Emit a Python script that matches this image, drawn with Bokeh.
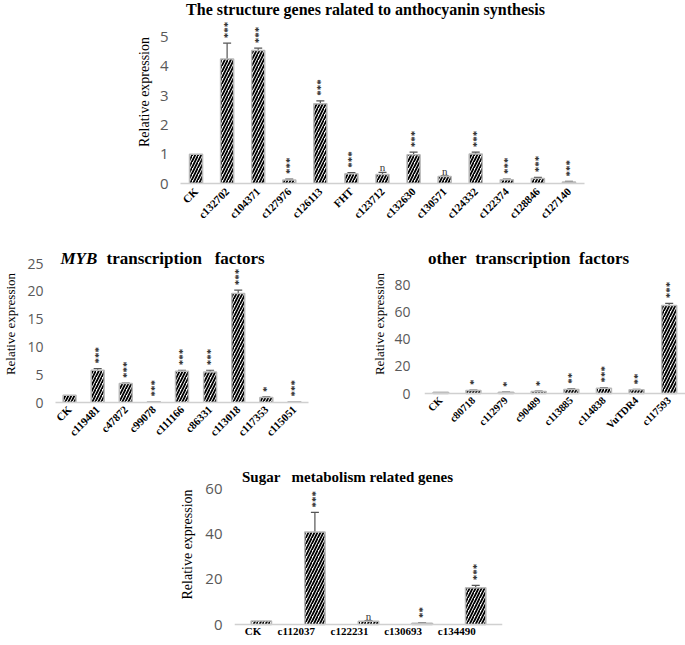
from math import pi
from bokeh.plotting import figure
from bokeh.models import (ColumnDataSource, FactorRange, Range1d, FixedTicker,
                          Whisker, TeeHead, Label, Spacer, Span)
from bokeh.layouts import column, row
from bokeh.embed import file_html
from bokeh.resources import INLINE

SERIF = "Liberation Serif"
SANS = "Open Sans"
NB = "\u00a0"

# ---------------- data ----------------
cats1 = ["CK", "c132702", "c104371", "c127976", "c126113", "FHT", "c123712",
         "c132630", "c130571", "c124332", "c122374", "c128846", "c127140"]
vals1 = [1.0, 4.25, 4.54, 0.12, 2.72, 0.33, 0.31, 0.98, 0.24, 1.01, 0.13, 0.17, 0.05]
errs1 = [0.0, 0.54, 0.08, 0.03, 0.10, 0.04, 0.07, 0.09, 0.02, 0.06, 0.02, 0.04, 0.02]
sig1 = ["", "***", "***", "***", "***", "***", "n", "***", "n", "***", "***", "***", "***"]
ticks1 = [0, 1, 2, 3, 4, 5]

cats2 = ["CK", "c119481", "c47872", "c99078", "c111166", "c86331", "c113018",
         "c117353", "c115051"]
vals2 = [1.3, 5.8, 3.4, 0.15, 5.6, 5.5, 19.6, 0.9, 0.15]
errs2 = [0.0, 0.3, 0.1, 0.02, 0.2, 0.3, 0.6, 0.1, 0.02]
sig2 = ["", "***", "***", "***", "***", "***", "***", "*", "***"]
ticks2 = [0, 5, 10, 15, 20, 25]

cats3 = ["CK", "c80718", "c112979", "c90489", "c113885", "c114838", "VuTDR4", "c117593"]
vals3 = [1.0, 2.2, 1.0, 1.5, 3.0, 3.9, 2.7, 64.6]
errs3 = [0.0, 0.3, 0.1, 0.2, 0.4, 0.5, 0.3, 1.6]
sig3 = ["", "*", "*", "*", "**", "***", "**", "***"]
ticks3 = [0, 20, 40, 60, 80]

cats4 = ["CK", "c112037", "c122231", "c130693", "c134490"]
vals4 = [1.6, 41.0, 1.5, 0.6, 16.3]
errs4 = [0.0, 8.7, 0.2, 0.1, 1.1]
sig4 = ["", "***", "n", "**", "***"]
ticks4 = [0, 20, 40, 60]


def panel(cats, vals, errs, sig, ticks, width, height, borders, y_rng, bw,
          tick_size, ylab_size, cat_size, cat_orient, ytick_standoff,
          ylab_standoff, xlab_standoff, zero_span=False):
    l, r, t, b = borders
    p = figure(x_range=FactorRange(*cats), y_range=Range1d(*y_rng),
               width=width, height=height, output_backend="svg",
               toolbar_location=None, min_border_left=l, min_border_right=r,
               min_border_top=t, min_border_bottom=b)
    p.outline_line_color = None
    p.xgrid.grid_line_color = None
    p.ygrid.grid_line_color = None
    p.background_fill_color = "white"

    tops = [v + e for v, e in zip(vals, errs)]
    src = ColumnDataSource(dict(cat=cats, val=vals))
    p.vbar(x="cat", top="val", bottom=0, width=bw, source=src, fill_color="white",
           line_color="#b8b8b8", line_width=1.5, hatch_pattern="/",
           hatch_color="black", hatch_scale=6, hatch_weight=1.8)

    idx = [i for i, e in enumerate(errs) if e > 0]
    esrc = ColumnDataSource(dict(cat=[cats[i] for i in idx],
                                 upper=[vals[i] + errs[i] for i in idx],
                                 lower=[vals[i] - errs[i] for i in idx]))
    w = Whisker(base="cat", upper="upper", lower="lower", source=esrc,
                line_color="#555555", line_width=1.2,
                upper_head=TeeHead(size=8, line_color="#555555", line_width=1.2),
                lower_head=TeeHead(size=8, line_color="#555555", line_width=1.2))
    p.add_layout(w)

    si = [i for i, s in enumerate(sig) if "*" in s]
    ssrc = ColumnDataSource(dict(cat=[cats[i] for i in si], y=[tops[i] for i in si],
                                 t=[sig[i] for i in si]))
    p.text(x="cat", y="y", text="t", source=ssrc, angle=pi / 2,
           text_align="left", text_baseline="middle", y_offset=-5,
           text_font="Liberation Serif", text_font_style="bold",
           text_font_size="11px", text_color="#222222")
    ni = [i for i, s in enumerate(sig) if s == "n"]
    nsrc = ColumnDataSource(dict(cat=[cats[i] for i in ni], y=[tops[i] for i in ni],
                                 t=[sig[i] for i in ni]))
    p.text(x="cat", y="y", text="t", source=nsrc, text_align="center",
           text_baseline="bottom", y_offset=1, text_font=SANS,
           text_font_size="11px", text_color="#333333")

    xa = p.xaxis[0]
    if zero_span:
        xa.axis_line_color = None
        p.add_layout(Span(location=0, dimension="width", line_color="#d0d0d0",
                          line_width=1.5))
    else:
        xa.axis_line_color = "#d0d0d0"
        xa.axis_line_width = 1.5
    xa.major_tick_line_color = None
    xa.minor_tick_line_color = None
    xa.major_tick_out = 0
    xa.major_tick_in = 0
    xa.major_label_text_font = SERIF
    xa.major_label_text_font_style = "bold"
    xa.major_label_text_font_size = cat_size
    xa.major_label_text_color = "black"
    xa.major_label_orientation = cat_orient
    xa.major_label_standoff = xlab_standoff

    ya = p.yaxis[0]
    ya.axis_line_color = None
    ya.major_tick_line_color = None
    ya.minor_tick_line_color = None
    ya.major_tick_out = 0
    ya.major_tick_in = 0
    ya.ticker = FixedTicker(ticks=ticks)
    ya.major_label_text_font = SANS
    ya.major_label_text_font_size = tick_size
    ya.major_label_text_color = "#595959"
    ya.major_label_standoff = ytick_standoff
    ya.axis_label = "Relative expression"
    ya.axis_label_text_font = SERIF
    ya.axis_label_text_font_style = "normal"
    ya.axis_label_text_font_size = ylab_size
    ya.axis_label_text_color = "black"
    ya.axis_label_standoff = ylab_standoff
    return p


def title(p, text, x, y, size, style="bold", align="center"):
    p.add_layout(Label(x=x, y=y, x_units="screen", y_units="screen", text=text,
                       text_font=SERIF, text_font_style=style,
                       text_font_size=size, text_align=align,
                       text_baseline="middle", text_color="black"))


# Row 1: frame x 180..584, y 0..183
p1 = panel(cats1, vals1, errs1, sig1, ticks1, 685, 245, (180, 101, 0, 62),
           (0, 183 / 29.3), 0.42, "15px", "14px", "11px", pi / 4, 12, 5, 6)
title(p1, "The structure genes ralated to anthocyanin synthesis", 185, 174, "16px")

# Row 2: common frame y 245..402
p2 = panel(cats2, vals2, errs2, sig2, ticks2, 340, 215, (52, 32, 0, 58),
           (0, 157 / 5.56), 0.46, "14px", "13px", "11px", pi / 4, 12, 6, 5)
title(p2, "MYB", 5, 144, "17px", style="bold italic", align="left")
title(p2, "transcription" + NB * 3 + "factors", 51, 144, "17px", align="left")

p3 = panel(cats3, vals3, errs3, sig3, ticks3, 345, 215, (84, 0, 0, 58),
           (-9 / 1.3625, 148 / 1.3625), 0.46, "14px", "13px", "10.5px", pi / 4,
           14, 4, -4, zero_span=True)
title(p3, "other" + NB * 2 + "transcription" + NB * 2 + "factors", 104, 144, "17px")

# Row 3: frame x 234..502, y 460..630 ; zero line at 626
p4 = panel(cats4, vals4, errs4, sig4, ticks4, 400, 185, (84, 48, 0, 15),
           (-4 / 2.283, 166 / 2.283), 0.38, "15px", "14px", "11px", 0, 12, 7, 2,
           zero_span=True)
title(p4, "Sugar" + NB * 3 + "metabolism related genes", 113, 152, "15px")

layout = column(p1, row(p2, p3), row(Spacer(width=150, height=185), p4))

open("out.html", "w").write(file_html(layout, INLINE))
